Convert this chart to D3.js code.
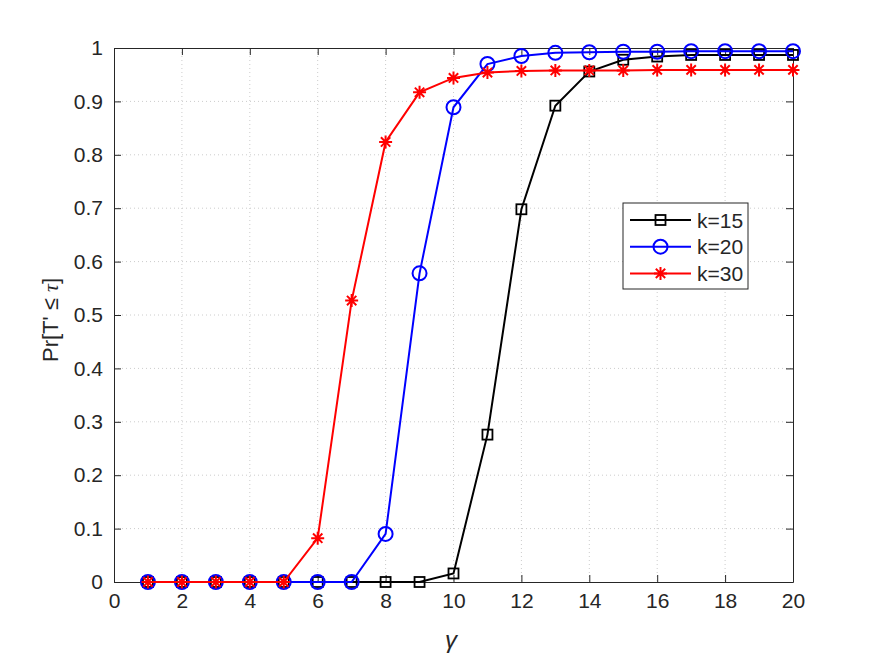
<!DOCTYPE html>
<html>
<head>
<meta charset="utf-8">
<script src="https://cdn.jsdelivr.net/npm/d3@7"></script>
<style>
  body { margin: 0; background: #fff; }
  text { font-family: "Liberation Sans", Arial, sans-serif; fill: #262626; }
</style>
</head>
<body>
<script>
// chart data
var gammaValues = [1, 2, 3, 4, 5, 6, 7, 8, 9, 10, 11, 12, 13, 14, 15, 16, 17, 18, 19, 20];
var k15 = [0, 0, 0, 0, 0, 0, 0, 0, 0, 0.016, 0.276, 0.698, 0.892, 0.956, 0.978, 0.984, 0.987, 0.987, 0.987, 0.987];
var k20 = [0, 0, 0, 0, 0, 0, 0, 0.09, 0.578, 0.889, 0.970, 0.985, 0.991, 0.992, 0.993, 0.993, 0.994, 0.994, 0.994, 0.994];
var k30 = [0, 0, 0, 0, 0, 0.082, 0.527, 0.824, 0.917, 0.944, 0.954, 0.957, 0.958, 0.958, 0.958, 0.959, 0.959, 0.959, 0.959, 0.959];
var seriesNames = ["k=15", "k=20", "k=30"];
var seriesColors = ["#000000", "#0000ff", "#ff0000"];
var seriesMarkers = ["square", "circle", "star"];
var xTicks = [0, 2, 4, 6, 8, 10, 12, 14, 16, 18, 20];
var yTicks = [0, 0.1, 0.2, 0.3, 0.4, 0.5, 0.6, 0.7, 0.8, 0.9, 1];

function main() {
    var width = 875, height = 657;
    var left = 114, right = 793, top = 48, bottom = 582;

    var svg = d3.select("body").append("svg")
        .attr("width", width)
        .attr("height", height);

    var x = d3.scaleLinear().domain([0, 20]).range([left, right]);
    var y = d3.scaleLinear().domain([0, 1]).range([bottom, top]);

    // grid
    svg.append("g").selectAll("line").data(xTicks.slice(1, -1)).join("line")
        .attr("x1", d => x(d)).attr("x2", d => x(d))
        .attr("y1", top).attr("y2", bottom)
        .attr("stroke", "#cccccc").attr("stroke-dasharray", "1,3");
    svg.append("g").selectAll("line").data(yTicks.slice(1, -1)).join("line")
        .attr("y1", d => y(d)).attr("y2", d => y(d))
        .attr("x1", left).attr("x2", right)
        .attr("stroke", "#cccccc").attr("stroke-dasharray", "1,3");

    // axes (ticks inward)
    var tl = 7;
    var xAxis = svg.append("g").attr("transform", "translate(0," + bottom + ")")
        .call(d3.axisBottom(x).tickValues(xTicks).tickSizeInner(-tl).tickSizeOuter(0).tickPadding(11));
    var yAxis = svg.append("g").attr("transform", "translate(" + left + ",0)")
        .call(d3.axisLeft(y).tickValues(yTicks).tickFormat(d3.format("~g")).tickSizeInner(-tl).tickSizeOuter(0).tickPadding(11));
    var xTop = svg.append("g").attr("transform", "translate(0," + top + ")")
        .call(d3.axisTop(x).tickValues(xTicks).tickSizeInner(-tl).tickSizeOuter(0).tickFormat(""));
    var yRight = svg.append("g").attr("transform", "translate(" + right + ",0)")
        .call(d3.axisRight(y).tickValues(yTicks).tickSizeInner(-tl).tickSizeOuter(0).tickFormat(""));

    [xAxis, yAxis, xTop, yRight].forEach(function (g) {
        g.attr("font-size", 21);
        g.select(".domain").attr("stroke", "#262626");
        g.selectAll(".tick line").attr("stroke", "#262626");
        g.selectAll("text").attr("font-size", 21).attr("fill", "#262626")
            .attr("font-family", "Liberation Sans, Arial, sans-serif");
    });

    // axis labels
    svg.append("text")
        .attr("x", 451).attr("y", 648)
        .attr("text-anchor", "middle")
        .attr("font-size", 24).attr("font-style", "italic")
        .attr("font-family", "Liberation Serif, serif")
        .text("γ");
    svg.append("text")
        .attr("transform", "translate(58,320) rotate(-90)")
        .attr("text-anchor", "middle")
        .attr("font-size", 22)
        .html("Pr[T' ≤ <tspan font-style='italic' font-family='Liberation Serif, serif'>τ</tspan>]");

    // series
    var allSeries = [k15, k20, k30];
    var line = d3.line().x((d, i) => x(gammaValues[i])).y(d => y(d));

    allSeries.forEach(function (vals, s) {
        var g = svg.append("g");
        g.append("path").datum(vals)
            .attr("d", line)
            .attr("fill", "none")
            .attr("stroke", seriesColors[s])
            .attr("stroke-width", 2);
        vals.forEach(function (v, i) {
            drawMarker(g, seriesMarkers[s], x(gammaValues[i]), y(v), seriesColors[s]);
        });
    });

    // legend
    var lg = svg.append("g");
    lg.append("rect")
        .attr("x", 623).attr("y", 203).attr("width", 125).attr("height", 86)
        .attr("fill", "#fff").attr("stroke", "#262626").attr("stroke-width", 1);
    seriesNames.forEach(function (name, s) {
        var ly = 220 + s * 26.7;
        lg.append("line").attr("x1", 630).attr("x2", 691).attr("y1", ly).attr("y2", ly)
            .attr("stroke", seriesColors[s]).attr("stroke-width", 2);
        drawMarker(lg, seriesMarkers[s], 660.5, ly, seriesColors[s]);
        lg.append("text").attr("x", 697).attr("y", ly + 7.5)
            .attr("font-size", 21).text(name);
    });
}

function drawMarker(g, type, cx, cy, color) {
    if (type == "square") {
        g.append("rect")
            .attr("x", cx - 5).attr("y", cy - 5).attr("width", 10).attr("height", 10)
            .attr("fill", "none").attr("stroke", color).attr("stroke-width", 1.8);
    } else if (type == "circle") {
        g.append("circle")
            .attr("cx", cx).attr("cy", cy).attr("r", 7)
            .attr("fill", "none").attr("stroke", color).attr("stroke-width", 2);
    } else {
        var r = 6.5;
        var d = r * 0.72;
        var p = "M" + (cx - r) + "," + cy + "L" + (cx + r) + "," + cy +
            "M" + cx + "," + (cy - r) + "L" + cx + "," + (cy + r) +
            "M" + (cx - d) + "," + (cy - d) + "L" + (cx + d) + "," + (cy + d) +
            "M" + (cx - d) + "," + (cy + d) + "L" + (cx + d) + "," + (cy - d);
        g.append("path").attr("d", p).attr("stroke", color).attr("stroke-width", 2);
    }
}

window.onload = main();
</script>
</body>
</html>
